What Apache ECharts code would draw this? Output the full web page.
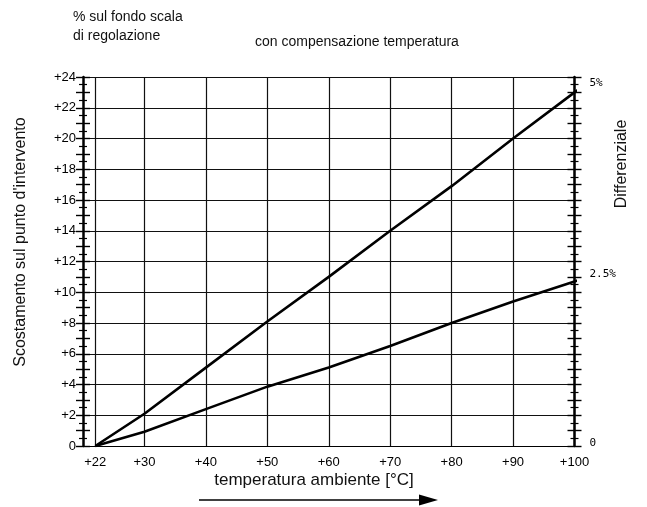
<!DOCTYPE html>
<html><head><meta charset="utf-8">
<script src="https://cdn.jsdelivr.net/npm/echarts@6/dist/echarts.min.js"></script>
<style>html,body{margin:0;padding:0;background:#fff}#c{width:647px;height:507px}</style>
</head><body><div id="c"></div>
<script>
// ---- data ----
const xTicks = [22, 30, 40, 50, 60, 70, 80, 90, 100];
const tempX = [22, 30, 40, 50, 60, 70, 80, 90, 100, 101.7];
const diff5 = [0, 2.1, 5.1, 8.1, 11.0, 14.0, 16.9, 20.0, 23.0, 23.5];
const diff25 = [0, 0.93, 2.4, 3.86, 5.1, 6.5, 8.0, 9.4, 10.7, 10.95];
const rightTickPos = [0.2, 11.2, 23.6];
const rightTickLabels = ['0', '2.5%', '5%'];

const FONT = '"Liberation Sans", Arial, Helvetica, sans-serif';
const chart = echarts.init(document.getElementById('c'), null, {renderer: 'canvas'});

function tickAxis(pos, inside, showLine) {
  return {
    type: 'value', position: pos, min: 0, max: 24, interval: 1, offset: 0,
    axisLine: {show: !!showLine, lineStyle: {color: '#000', width: 2.5}},
    axisTick: {show: true, inside: inside, length: 7, lineStyle: {color: '#000', width: 1.4}},
    minorTick: {show: true, splitNumber: 2, length: 4, lineStyle: {color: '#000', width: 1.2}},
    axisLabel: {show: false}, splitLine: {show: false}
  };
}

const rightLabelAxis = tickAxis('right', true, true);
rightLabelAxis.axisLabel = {
  show: true, customValues: rightTickPos, margin: 15, color: '#000',
  fontFamily: '"DejaVu Sans Mono", monospace', fontSize: 11,
  formatter: function (v) { return rightTickLabels[rightTickPos.indexOf(v)]; }
};

const option = {
  animation: false,
  grid: {left: 83, right: 72.5, top: 77, bottom: 61},
  xAxis: {
    type: 'value', min: 20, max: 100,
    axisLine: {show: true, lineStyle: {color: '#000', width: 1}},
    axisTick: {show: false, customValues: xTicks},
    axisLabel: {customValues: xTicks, formatter: function (v) { return '+' + v; },
      color: '#000', fontSize: 13, fontFamily: FONT, margin: 10},
    splitLine: {show: true, lineStyle: {color: '#111', width: 1.2}}
  },
  yAxis: [
    {
      type: 'value', position: 'left', min: 0, max: 24, interval: 2,
      axisLine: {show: true, lineStyle: {color: '#000', width: 2.5}},
      axisTick: {show: false},
      axisLabel: {color: '#000', fontSize: 13, fontFamily: FONT, margin: 7,
        formatter: function (v) { return v === 0 ? '0' : '+' + v; }},
      splitLine: {show: true, lineStyle: {color: '#111', width: 1.2}}
    },
    tickAxis('left', true, false),
    tickAxis('left', false, false),
    rightLabelAxis,
    tickAxis('right', false, false)
  ],
  series: [
    {type: 'line', yAxisIndex: 0, showSymbol: false, clip: false,
      lineStyle: {color: '#000', width: 2.6},
      data: tempX.map(function (x, i) { return [x, diff5[i]]; })},
    {type: 'line', yAxisIndex: 0, showSymbol: false, clip: false,
      lineStyle: {color: '#000', width: 2.6},
      data: tempX.map(function (x, i) { return [x, diff25[i]]; })}
  ],
  graphic: [
    {type: 'text', left: 73, top: 8, style: {text: '% sul fondo scala\ndi regolazione',
      font: '14px ' + FONT, fill: '#111', lineHeight: 19}},
    {type: 'text', left: 255, top: 35, style: {text: 'con compensazione temperatura',
      font: '14px ' + FONT, fill: '#111'}},
    {type: 'text', x: 314, y: 480, style: {text: 'temperatura ambiente [°C]',
      font: '17px ' + FONT, fill: '#111', align: 'center', verticalAlign: 'middle'}},
    {type: 'text', x: 21, y: 242, rotation: Math.PI / 2, style: {text: "Scostamento sul punto d'intervento",
      font: '16px ' + FONT, fill: '#111', align: 'center', verticalAlign: 'middle'}},
    {type: 'text', x: 622, y: 164, rotation: Math.PI / 2, style: {text: 'Differenziale',
      font: '16px ' + FONT, fill: '#111', align: 'center', verticalAlign: 'middle'}},
    {type: 'line', shape: {x1: 199, y1: 500, x2: 422, y2: 500}, style: {stroke: '#000', lineWidth: 1.6}},
    {type: 'polygon', shape: {points: [[419, 494.5], [438, 500], [419, 505.5]]}, style: {fill: '#000'}}
  ]
};
chart.setOption(option);
</script></body></html>
